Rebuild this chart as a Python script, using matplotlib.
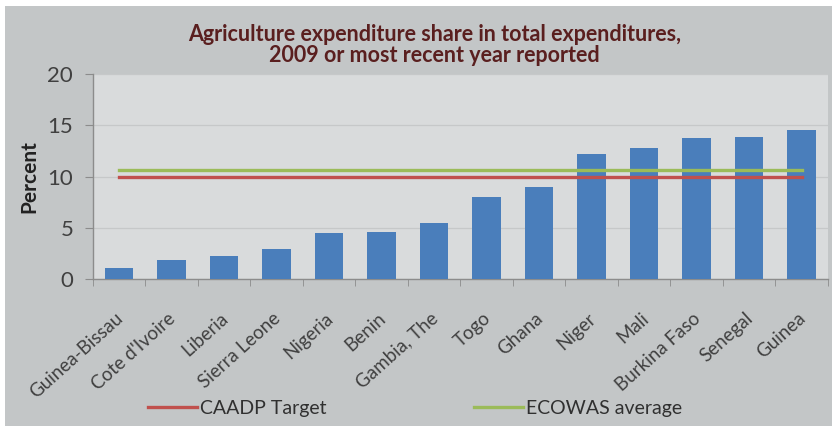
import matplotlib.pyplot as plt
import matplotlib.transforms as mtransforms
import numpy as np
from matplotlib.patches import Rectangle

# -------------------------------------------------------
# Data.
# -------------------------------------------------------
countries = ["Guinea-Bissau", "Cote d'Ivoire", "Liberia", "Sierra Leone", "Nigeria",
             "Benin", "Gambia, The", "Togo", "Ghana", "Niger", "Mali",
             "Burkina Faso", "Senegal", "Guinea"]
shares = [1.1, 1.9, 2.25, 2.9, 4.45, 4.6, 5.5, 8.0, 8.95, 12.25, 12.75, 13.8, 13.9, 14.5]
caadp_target = 10.0
ecowas_average = 10.6
yticks = [0, 5, 10, 15, 20]

plt.rcParams['font.family'] = ['Lato', 'DejaVu Sans']

fig = plt.figure(figsize=(8.32, 4.26), dpi=100, facecolor="white")
# grey panel behind the chart (small white margin top/left like the reference)
fig.patches.append(Rectangle((5 / 832, 0), 1 - 5 / 832, 1 - 6 / 426,
                             transform=fig.transFigure, facecolor="#c3c6c7",
                             edgecolor="none", zorder=-10))

ax = fig.add_axes([0.1114, 0.345, 0.8836, 0.481])
ax.set_facecolor("#d9dbdc")

x = np.arange(len(countries))
ax.bar(x, shares, width=0.54, color="#4a7ebb", zorder=3)
ax.plot(x, [caadp_target] * len(x), color="#c0504d", lw=2.4, zorder=4, label="CAADP Target")
ax.plot(x, [ecowas_average] * len(x), color="#9bbb59", lw=2.4, zorder=4, label="ECOWAS average")

ax.set_xlim(-0.5, len(countries) - 0.5)
ax.set_ylim(0, 20)
ax.set_yticks(yticks)
ax.set_yticklabels([str(v) for v in yticks], fontsize=16, color="#404040")
ax.yaxis.grid(True, color="#c6c8c9", lw=0.9, zorder=0)

ax.set_xticks(x)
ax.set_xticklabels(countries, rotation=42, ha="right", rotation_mode="anchor",
                   fontsize=13.5, color="#404040")
ax.tick_params(axis="x", which="major", length=0, pad=22)
# small horizontal nudge of the rotated labels
shift = mtransforms.ScaledTranslation(-4 / 100, 0, fig.dpi_scale_trans)
for lbl in ax.get_xticklabels():
    lbl.set_transform(lbl.get_transform() + shift)
ax.set_xticks(np.arange(-0.5, len(countries), 1.0), minor=True)
ax.tick_params(axis="x", which="minor", length=5, color="#8c8c8c", direction="out")
ax.tick_params(axis="y", length=6, color="#8c8c8c", direction="out", pad=8)

for side in ["top", "right"]:
    ax.spines[side].set_visible(False)
for side in ["left", "bottom"]:
    ax.spines[side].set_color("#8c8c8c")
    ax.spines[side].set_linewidth(1.0)

ax.set_ylabel("Percent", fontsize=15, fontweight="bold", color="#222222", labelpad=6)

fig.text(0.522, 0.918, "Agriculture expenditure share in total expenditures,",
         ha="center", va="center", fontsize=15.5, fontweight="bold", color="#5a1f1f")
fig.text(0.522, 0.869, "2009 or most recent year reported",
         ha="center", va="center", fontsize=15.5, fontweight="bold", color="#5a1f1f")

fig.legend(loc="center", bbox_to_anchor=(0.499, 0.042), ncol=2, frameon=False,
           fontsize=14, handlelength=2.5, handletextpad=0.15, columnspacing=7.6,
           labelcolor="#303030")

fig.savefig("out.png", dpi=100, facecolor=fig.get_facecolor())
